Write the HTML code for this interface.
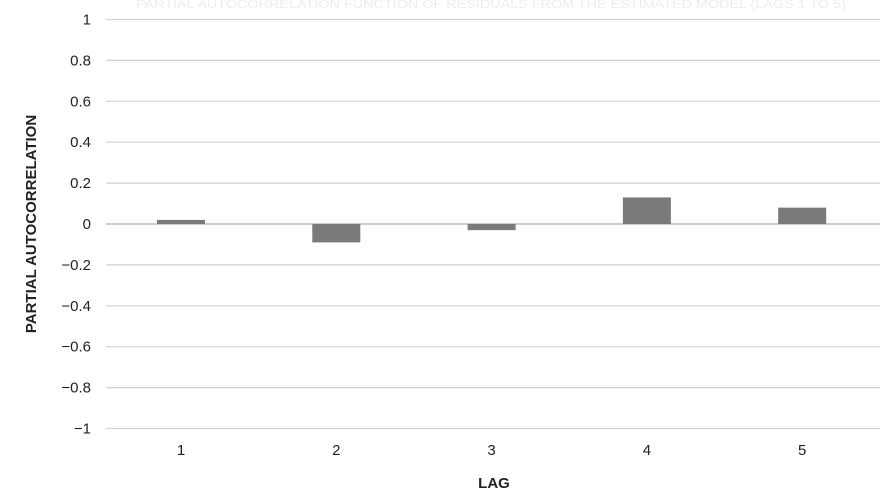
<!DOCTYPE html>
<html><head><style>
body{margin:0;background:#fff;}
svg text{font-family:"Liberation Sans",sans-serif;}
</style></head><body>
<svg width="892" height="499" id="c">
<text x="136" y="8" textLength="710" lengthAdjust="spacingAndGlyphs" font-size="12" fill="#ededed">PARTIAL AUTOCORRELATION FUNCTION OF RESIDUALS FROM THE ESTIMATED MODEL (LAGS 1 TO 5)</text>
<g id="grid"></g><g id="bars"></g><g id="xl"></g>
<text x="36" y="224" transform="rotate(-90 36 224)" text-anchor="middle" font-size="15" font-weight="bold" fill="#222">PARTIAL AUTOCORRELATION</text>
<text x="494" y="488" text-anchor="middle" font-size="15" font-weight="bold" fill="#222">LAG</text>
</svg>
<script>
const categories=["1","2","3","4","5"];
const values=[0.02,-0.09,-0.03,0.13,0.08];
const yTicks=[1,0.8,0.6,0.4,0.2,0,-0.2,-0.4,-0.6,-0.8,-1];
const yTickLabels=["1","0.8","0.6","0.4","0.2","0","\u22120.2","\u22120.4","\u22120.6","\u22120.8","\u22121"];
const NS="http://www.w3.org/2000/svg";
const y=v=>224-v*204.5;
const x=i=>181+i*155.3;
const g=document.getElementById('grid'),b=document.getElementById('bars'),xl=document.getElementById('xl');
yTicks.forEach((t,i)=>{
 const l=document.createElementNS(NS,'line');
 l.setAttribute('x1',106);l.setAttribute('x2',880);l.setAttribute('y1',y(t));l.setAttribute('y2',y(t));
 l.setAttribute('stroke',t===0?'#bdbdbd':'#d2d2d2');l.setAttribute('stroke-width',t===0?1.5:1.2);
 
 
 g.appendChild(l);
 const tx=document.createElementNS(NS,'text');
 tx.setAttribute('x',91);tx.setAttribute('y',y(t)+5);tx.setAttribute('text-anchor','end');tx.setAttribute('font-size','15');tx.setAttribute('fill','#222');
 tx.textContent=yTickLabels[i];
 
 
 g.appendChild(tx);
});
categories.forEach((c,i)=>{
 const v=values[i];
 const r=document.createElementNS(NS,'rect');
 r.setAttribute('x',x(i)-24);r.setAttribute('width',48);
 r.setAttribute('y',Math.min(y(v),y(0)));r.setAttribute('height',Math.max(Math.abs(y(v)-y(0)),1));
 r.setAttribute('fill','#7a7a7a');
 
 
 b.appendChild(r);
 const t=document.createElementNS(NS,'text');
 t.setAttribute('x',x(i));t.setAttribute('y',455);t.setAttribute('text-anchor','middle');t.setAttribute('font-size','15');t.setAttribute('fill','#222');
 t.textContent=c;
 
 
 xl.appendChild(t);
});
</script>
</body></html>
